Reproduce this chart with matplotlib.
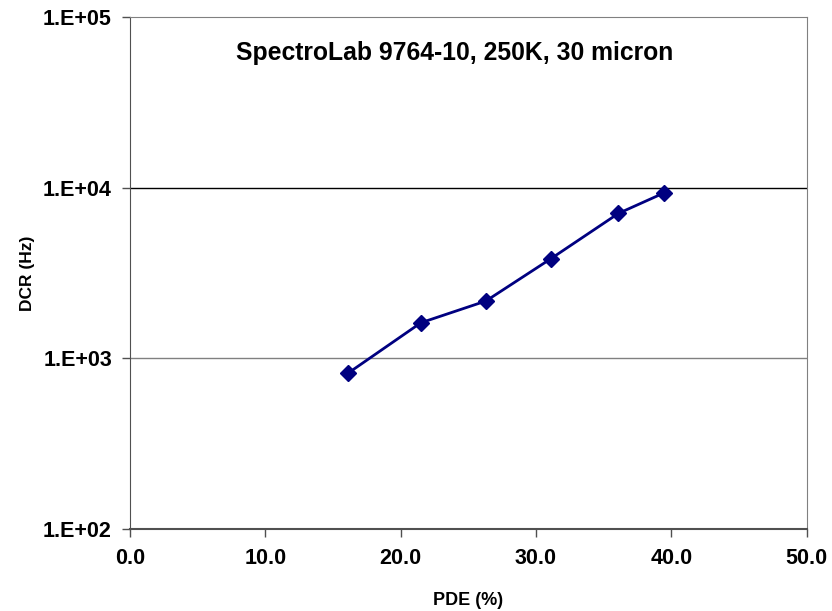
import matplotlib
matplotlib.use("Agg")
import matplotlib.pyplot as plt
from matplotlib.ticker import FixedLocator, FuncFormatter, NullLocator

pde = [16.1, 21.5, 26.3, 31.1, 36.1, 39.5]
dcr = [817, 1616, 2166, 3832, 7067, 9340]
x_ticks = [0, 10, 20, 30, 40, 50]
y_ticks = [1e2, 1e3, 1e4, 1e5]
y_tick_labels = ["1.E+02", "1.E+03", "1.E+04", "1.E+05"]
title = "SpectroLab 9764-10, 250K, 30 micron"

plt.rcParams['font.family'] = ['Liberation Sans', 'DejaVu Sans']

fig = plt.figure(figsize=(8.32, 6.11), dpi=100)
ax = fig.add_axes([130/832, 1 - 529/611, (806.5-130)/832, (529-17)/611])

ax.set_yscale('log')
ax.set_xlim(0, 50)
ax.set_ylim(1e2, 1e5)

# gridlines
ax.axhline(1e4, color='black', lw=1.0, zorder=1)
ax.axhline(1e3, color='#808080', lw=1.0, zorder=1)

ax.plot(pde, dcr, color='#000080', lw=2.0, marker='D', markersize=8,
        markerfacecolor='#000080', markeredgecolor='#000080', zorder=3)

ax.xaxis.set_major_locator(FixedLocator(x_ticks))
ax.xaxis.set_major_formatter(FuncFormatter(lambda v, p: f"{v:.1f}"))
ax.xaxis.set_minor_locator(NullLocator())
ax.yaxis.set_major_locator(FixedLocator(y_ticks))
ax.set_yticklabels(y_tick_labels)
ax.yaxis.set_minor_locator(NullLocator())

ax.tick_params(axis='both', direction='out', length=6, width=1, color='#505050',
               labelsize=15.5)
ax.tick_params(axis='x', pad=8)
ax.tick_params(axis='y', pad=7)
for lab in ax.get_xticklabels() + ax.get_yticklabels():
    lab.set_fontweight('bold')

ax.spines['left'].set_color('#505050')
ax.spines['bottom'].set_color('#505050')
ax.spines['bottom'].set_linewidth(1.5)
ax.spines['right'].set_color('#808080')
ax.spines['top'].set_color('#808080')

ax.set_xlabel("PDE (%)", fontsize=13, fontweight='bold', labelpad=16)
ax.set_ylabel("DCR (Hz)", fontsize=12.5, fontweight='bold', labelpad=6)

ax.text(0.48, 0.93, title, transform=ax.transAxes, ha='center', va='center',
        fontsize=17.8, fontweight='bold')

fig.savefig("out.png", dpi=100)
